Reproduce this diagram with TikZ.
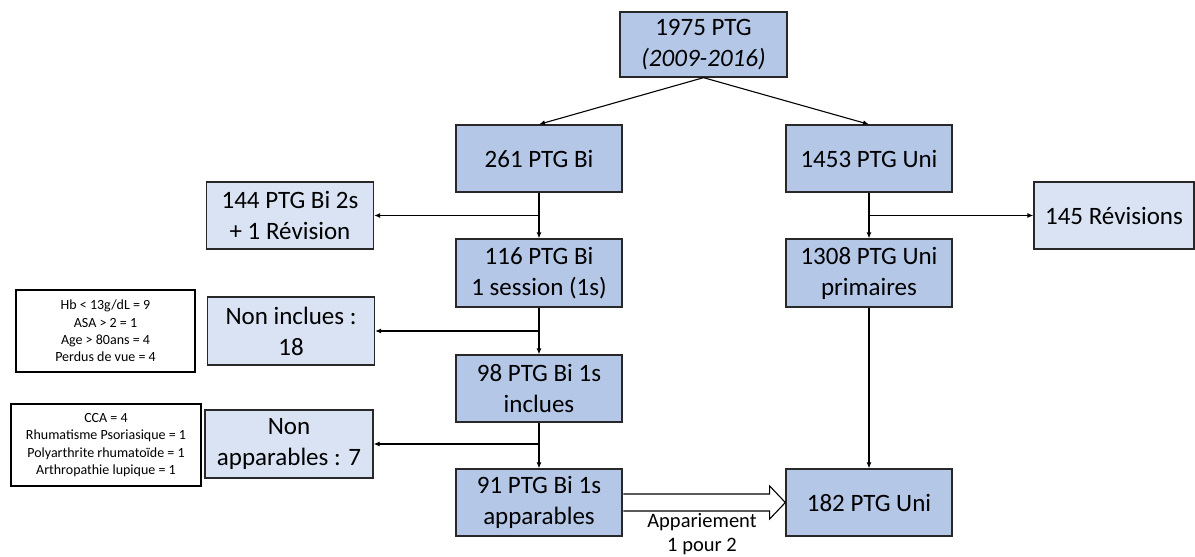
\documentclass[tikz,border=0pt]{standalone}
\usepackage{fontspec}
\setmainfont{Carlito}
\usetikzlibrary{arrows.meta,calc}
\definecolor{darkfill}{RGB}{180,199,231}
\definecolor{lightfill}{RGB}{218,227,243}
\definecolor{edge}{RGB}{40,40,40}
\tikzset{
  box/.style={draw=edge,line width=1.3pt,align=center,inner sep=0pt,
    font=\fontsize{25}{31}\selectfont},
  mainbox/.style={box,fill=darkfill,minimum width=166pt,minimum height=67pt},
  sidebox/.style={box,fill=lightfill,minimum width=167pt,minimum height=67pt},
  notebox/.style={draw=black,line width=1.3pt,fill=white,align=center,inner sep=0pt,
    font=\fontsize{14}{17.4}\selectfont,minimum height=82pt},
  conn/.style={line width=1.1pt,-{Latex[length=6pt,width=5pt]}},
  plain/.style={line width=1.1pt}
}
\begin{document}
\begin{tikzpicture}[x=1pt,y=-1pt]
\useasboundingbox (0,0) rectangle (1195,557);
\node[mainbox,minimum width=167pt,minimum height=65pt] (top) at (703.5,44.5) {1975 PTG\\\textit{(2009-2016)}};
\node[mainbox] (bi) at (539,158.5) {261 PTG Bi};
\node[mainbox] (uni) at (869,158.5) {1453 PTG Uni};
\node[sidebox] (bi2s) at (290,215.5) {144 PTG Bi 2s\\+ 1 Révision};
\node[sidebox,minimum width=160pt] (rev) at (1114,215.5) {145 Révisions};
\node[mainbox,minimum height=68pt] (bi1) at (539,273) {116 PTG Bi\\1 session (1s)};
\node[mainbox,minimum height=68pt] (uniprim) at (869,273) {1308 PTG Uni\\primaires};
\node[sidebox,minimum height=68pt] (noninc) at (291,331) {Non inclues :\\18};
\node[notebox,minimum width=179pt] (hb) at (105.5,331) {Hb < 13g/dL = 9\\ASA > 2 = 1\\Age > 80ans = 4\\Perdus de vue = 4};
\node[mainbox] (inc) at (539,388.5) {98 PTG Bi 1s\\inclues};
\node[sidebox,minimum width=168pt,minimum height=68pt] (nonapp) at (289,444) {Non\\apparables : 7};
\node[notebox,minimum width=190pt] (cca) at (106,445) {CCA = 4\\Rhumatisme Psoriasique = 1\\Polyarthrite rhumatoïde = 1\\Arthropathie lupique = 1};
\node[mainbox] (app) at (539,502.5) {91 PTG Bi 1s\\apparables};
\node[mainbox] (u182) at (869,502.5) {182 PTG Uni};

\draw[conn] (top.south) -- (bi.north);
\draw[conn] (top.south) -- (uni.north);
\draw[conn] (bi.south) -- (bi1.north);
\coordinate (b1) at (bi.south |- bi2s.east);
\draw[conn] (b1) -- (bi2s.east);
\draw[conn] (uni.south) -- (uniprim.north);
\coordinate (b2) at (uni.south |- rev.west);
\draw[conn] (b2) -- (rev.west);
\draw[conn] (bi1.south) -- (inc.north);
\coordinate (b3) at (bi1.south |- noninc.east);
\draw[conn] (b3) -- (noninc.east);
\draw[conn] (inc.south) -- (app.north);
\coordinate (b4) at (inc.south |- nonapp.east);
\draw[conn] (b4) -- (nonapp.east);
\draw[conn] (uniprim.south) -- (u182.north);

\draw[line width=1.1pt,fill=white,line join=miter]
  ($(app.east)+(0.7,-8.5)$) -- ++(146.3,0) -- ++(0,-8) -- (u182.west)
  -- ($(app.east)+(147,16.5)$) -- ++(0,-8) -- ($(app.east)+(0.7,8.5)$);
\node[font=\fontsize{20.5}{24}\selectfont,align=center] (lbl) at (702,534) {Appariement\\1 pour 2};
\end{tikzpicture}
\end{document}
